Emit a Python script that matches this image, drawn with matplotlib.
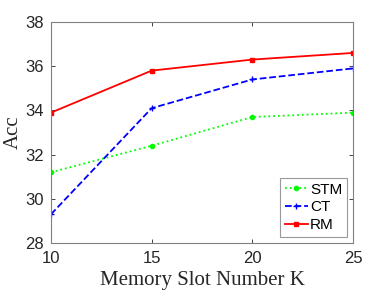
import matplotlib
matplotlib.use("Agg")
import matplotlib.pyplot as plt

k = [10, 15, 20, 25]
stm = [31.2, 32.4, 33.7, 33.9]
ct = [29.3, 34.1, 35.4, 35.9]
rm = [33.9, 35.8, 36.3, 36.6]

plt.rcParams["font.family"] = "Liberation Sans"

fig = plt.figure(figsize=(3.9, 2.93), dpi=100)
ax = fig.add_axes([51/390, 1 - 243/293, 302/390, 221/293])

ax.plot(k, stm, color="#00ff00", linestyle=":", linewidth=1.3, marker="o", markersize=3, label="STM")
ax.plot(k, ct, color="#0000ff", linestyle="--", linewidth=1.3, marker="+", markersize=5, label="CT")
ax.plot(k, rm, color="#ff0000", linestyle="-", linewidth=1.3, marker="s", markersize=2.5, label="RM")

ax.set_xlim(10, 25)
ax.set_ylim(28, 38)
ax.set_xticks([10, 15, 20, 25])
ax.set_yticks([28, 30, 32, 34, 36, 38])
ax.tick_params(direction="in", top=True, right=True, labelsize=12, colors="#262626", length=3, width=0.6)
ax.tick_params(axis="x", pad=6)
ax.tick_params(axis="y", pad=5)
for tl in ax.get_xticklabels() + ax.get_yticklabels():
    tl.set_color("#262626")
for s in ax.spines.values():
    s.set_color("#808080")
    s.set_linewidth(0.8)

ax.set_xlabel("Memory Slot Number K", fontfamily="Liberation Serif", fontsize=15, color="#262626", labelpad=3)
ax.set_ylabel("Acc", fontfamily="Liberation Serif", fontsize=15, color="#262626", labelpad=2)

leg = ax.legend(loc="lower right", fontsize=11, fancybox=False, handlelength=1.5, handletextpad=0.15,
                borderpad=0.3, labelspacing=0.25, borderaxespad=0.4)
leg.get_frame().set_edgecolor("#808080")
leg.get_frame().set_linewidth(0.8)

fig.savefig("out.png", dpi=100)
